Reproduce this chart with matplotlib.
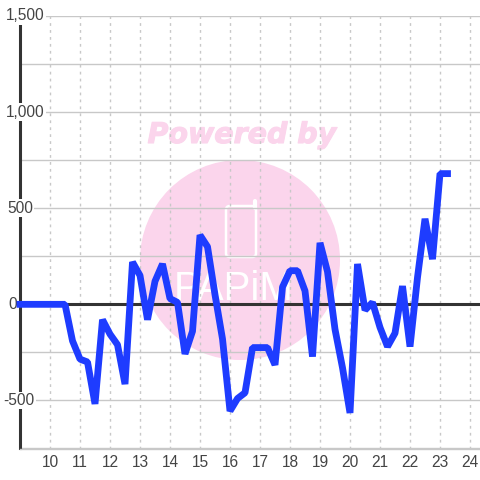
import matplotlib
matplotlib.use('Agg')
import matplotlib.pyplot as plt
import matplotlib.patheffects as pe
from matplotlib.lines import Line2D
from matplotlib.patches import Circle, FancyBboxPatch
from matplotlib.ticker import MultipleLocator

hours = [9 + i * 0.25 for i in range(58)]
values = [0, 0, 0, 0, 0, 0, 0, -190, -285, -300, -518, -80, -155, -210, -415,
          220, 150, -80, 120, 210, 30, 10, -258, -140, 360, 300, 50, -180,
          -555, -490, -460, -225, -225, -225, -315, 90, 175, 175, 70, -272,
          320, 170, -130, -330, -565, 210, -30, 10, -120, -220, -150, 95,
          -220, 140, 445, 235, 680, 680]
x_ticks = list(range(10, 25))
y_ticks = [-500, 0, 500, 1000, 1500]
watermark_top = 'Powered by'
watermark_name = 'PAPiM'

plt.rcParams['font.family'] = ['Liberation Sans', 'DejaVu Sans']

fig = plt.figure(figsize=(4.8, 4.8), dpi=100)
fig.patch.set_facecolor('white')

W = 480.0


def px(x, y):
    # image pixels to figure fraction
    return x / W, 1 - y / W


# watermark sits behind the chart
pink = '#fbd5ec'
fig.add_artist(Circle(px(240, 260), 100 / W, transform=fig.transFigure,
                      facecolor=pink, edgecolor='none', zorder=0))
top_text = fig.text(*px(242, 135), watermark_top, color=pink, fontsize=20.5, weight='bold',
                    style='italic', family='DejaVu Sans', ha='center', va='center', zorder=0)
top_text.set_path_effects([pe.withStroke(linewidth=0.8, foreground=pink)])
fig.add_artist(FancyBboxPatch(px(226, 257), 30 / W, 51 / W,
                              boxstyle='round,pad=0,rounding_size=0.008',
                              transform=fig.transFigure, facecolor='none',
                              edgecolor='white', linewidth=1.8, zorder=0))
x0, y0 = px(255, 208)
x1, y1 = px(255, 201)
fig.add_artist(Line2D([x0, x1], [y0, y1], transform=fig.transFigure, color='white',
                      linewidth=3, solid_capstyle='round', zorder=0))
fig.text(*px(234, 289), watermark_name, color='white', fontsize=29,
         ha='center', va='center', zorder=0)

ax = fig.add_axes([20 / W, 1 - 448.5 / W, 460 / W, 432.5 / W], zorder=1)
ax.patch.set_visible(False)
ax.set_xlim(9, 24.333)
ax.set_ylim(-750, 1500)

ax.set_xticks(x_ticks)
ax.yaxis.set_major_locator(MultipleLocator(250))
ax.set_yticklabels([])
ax.grid(axis='x', color='#c8c8c8', linestyle=(0, (2, 3)), linewidth=1)
ax.grid(axis='y', color='#c8c8c8', linestyle='-', linewidth=1)
ax.set_axisbelow(True)

for side in ['top', 'right']:
    ax.spines[side].set_visible(False)
ax.spines['bottom'].set_color('#c8c8c8')
ax.spines['bottom'].set_linewidth(1)
ax.spines['left'].set_color('#333333')
ax.spines['left'].set_linewidth(2.2)
ax.spines['left'].set_bounds(-750, 1460)

ax.axhline(0, color='#333333', linewidth=2.2, zorder=2)
ax.plot(hours, values, color='#1e3cff', linewidth=4.9, solid_joinstyle='bevel',
        solid_capstyle='projecting', zorder=6, clip_on=False)

ax.tick_params(axis='both', length=0)
ax.tick_params(axis='x', labelsize=11.2, labelcolor='#444444', pad=5)

# y labels keep the odd left edges of the original
label_left = {-500: 3, 0: 8, 500: 7, 1000: 6, 1500: 6}
for v in y_ticks:
    ax.text((label_left[v] - 20) / 460, (v + 750) / 2250, f'{v:,}', transform=ax.transAxes,
            ha='left', va='center', fontsize=11.2, color='#444444', zorder=4, clip_on=False,
            bbox=dict(facecolor='white', edgecolor='none', pad=1))

fig.savefig('out.png', dpi=100)
